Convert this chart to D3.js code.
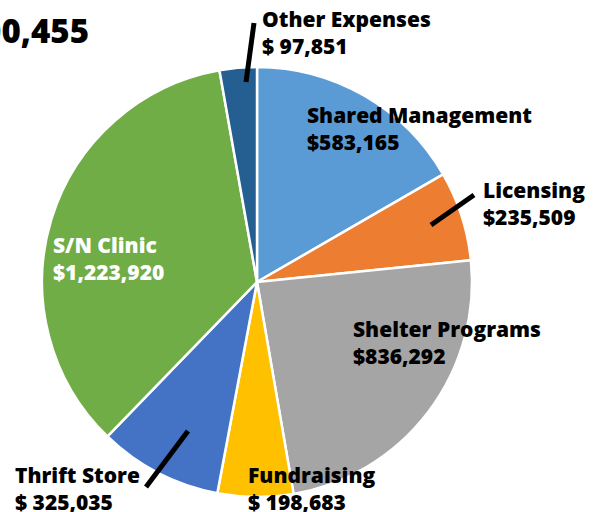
<!DOCTYPE html>
<html>
<head>
<meta charset="utf-8">
<script src="https://cdn.jsdelivr.net/npm/d3@7"></script>
<style>
	body { margin: 0; background: #fff; }
	svg text { font-family: "Open Sans", sans-serif; font-weight: 800; }
</style>
</head>
<body>
<svg id="chart" width="598" height="512"></svg>
<script>
const categories = ["Shared Management", "Licensing", "Shelter Programs", "Fundraising", "Thrift Store", "S/N Clinic", "Other Expenses"];
const values = [583165, 235509, 836292, 198683, 325035, 1223920, 97851];
const colors = ["#5B9BD5", "#ED7D31", "#A5A5A5", "#FFC000", "#4472C4", "#70AD47", "#255E91"];
const spacedDollar = ["Fundraising", "Thrift Store", "Other Expenses"];
const titleText = "Total Expenses: $3,500,455";

// label placement, [x, baseline of first line]
const labelPos = {
	"Shared Management": [307, 123],
	"Licensing": [483, 198],
	"Shelter Programs": [353, 337],
	"Fundraising": [248, 483],
	"Thrift Store": [15, 483],
	"S/N Clinic": [53, 253],
	"Other Expenses": [262, 27],
};
const leaders = {
	"Licensing": [[431, 225], [474, 195]],
	"Thrift Store": [[146, 487], [188, 431]],
	"Other Expenses": [[254, 23], [246, 82]],
};

const data = categories.map((c, i) => ({ label: c, value: values[i], color: colors[i] }));
const svg = d3.select("#chart");
const cx = 257, cy = 282, r = 215;

const pie = d3.pie().sort(null).value((d) => d.value);
const arc = d3.arc().innerRadius(0).outerRadius(r);

const g = svg.append("g").attr("transform", `translate(${cx},${cy})`);
g.selectAll("path")
	.data(pie(data))
	.join("path")
	.attr("d", arc)
	.attr("fill", (d) => d.data.color)
	.attr("stroke", "#fff")
	.attr("stroke-width", 2.5)
	.attr("stroke-linejoin", "round");

svg.selectAll("line.leader")
	.data(Object.values(leaders))
	.join("line")
	.attr("class", "leader")
	.attr("x1", (d) => d[0][0])
	.attr("y1", (d) => d[0][1])
	.attr("x2", (d) => d[1][0])
	.attr("y2", (d) => d[1][1])
	.attr("stroke", "#000")
	.attr("stroke-width", 5);

const fmt = d3.format(",");
const lab = svg.selectAll("text.lab")
	.data(data)
	.join("text")
	.attr("class", "lab")
	.attr("x", (d) => labelPos[d.label][0])
	.attr("y", (d) => labelPos[d.label][1])
	.attr("font-size", 21)
	.attr("fill", (d) => (d.label === "S/N Clinic" ? "#fff" : "#000"));
lab.append("tspan").text((d) => d.label);
lab.append("tspan")
	.attr("x", (d) => labelPos[d.label][0])
	.attr("dy", 26.5)
	.text((d) => (spacedDollar.includes(d.label) ? "$ " : "$") + fmt(d.value));

svg.append("text")
	.attr("x", 89)
	.attr("y", 43)
	.attr("text-anchor", "end")
	.attr("font-size", 33)
	.text(titleText);
</script>
</body>
</html>
